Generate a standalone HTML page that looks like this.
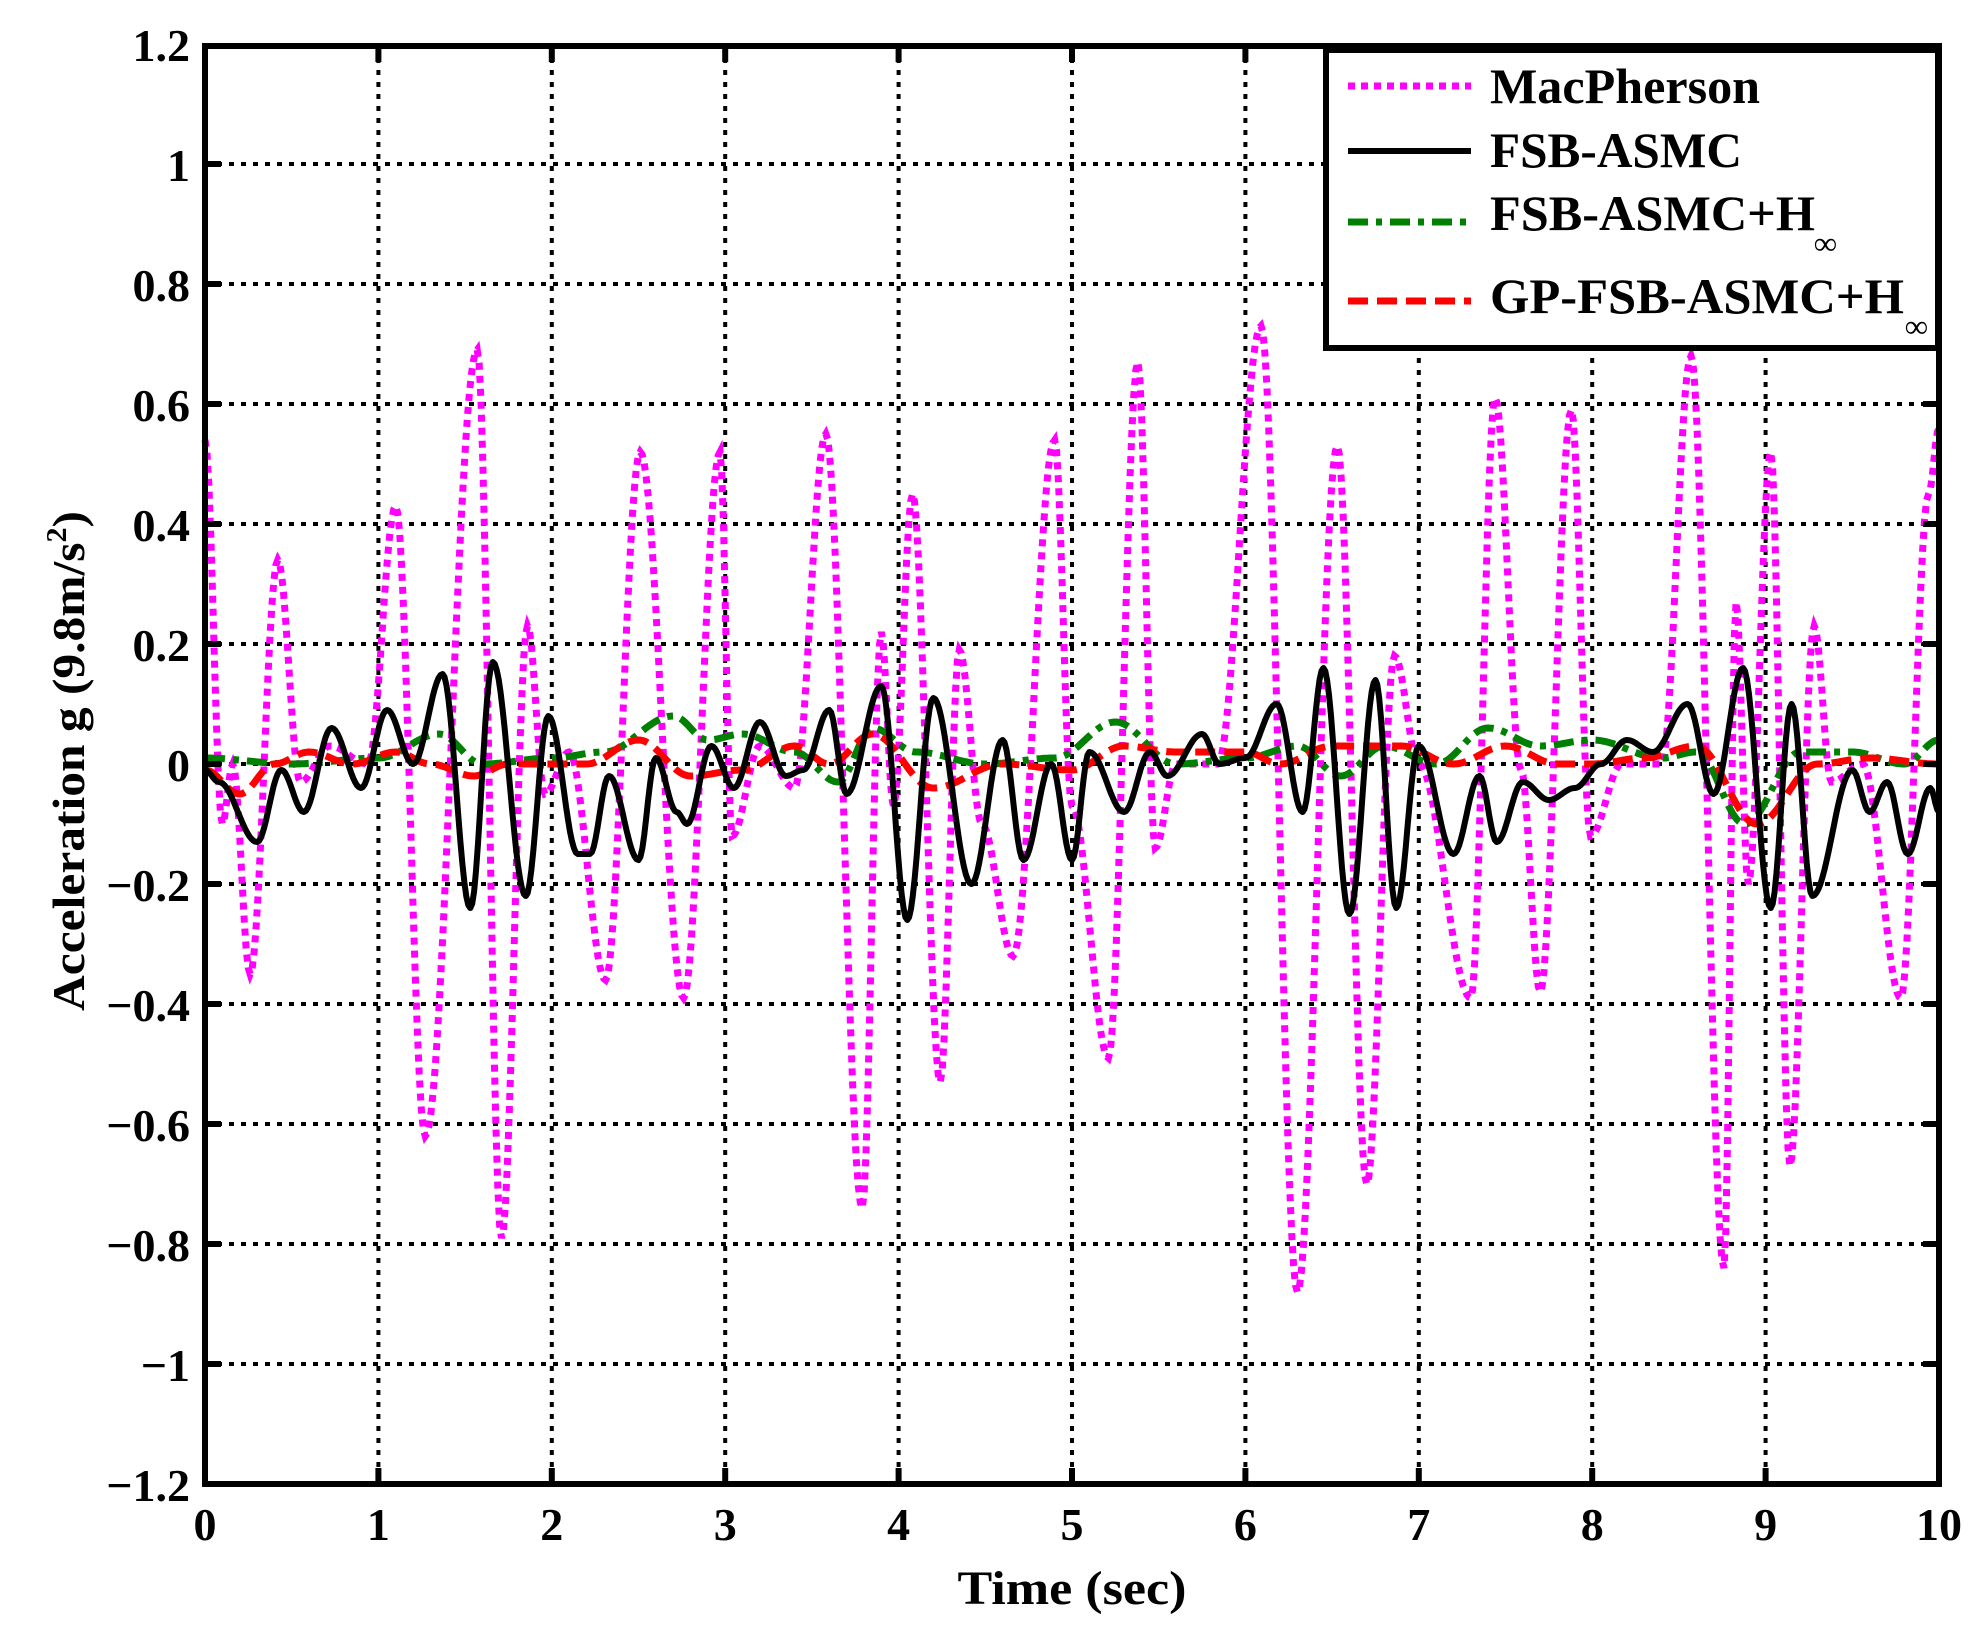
<!DOCTYPE html>
<html><head><meta charset="utf-8"><style>
html,body{margin:0;padding:0;background:#fff;}
svg{display:block;}
text{font-family:"Liberation Serif",serif;font-weight:bold;fill:#000;}
</style></head><body>
<svg id="s" width="1987" height="1636" viewBox="0 0 1987 1636" xmlns="http://www.w3.org/2000/svg">
<rect width="1987" height="1636" fill="#fff"/>
<g id="grid" stroke="#000" stroke-width="4" stroke-dasharray="5 7"></g>
<g id="series"></g>
<rect x="205" y="46" width="1734" height="1438" fill="none" stroke="#000" stroke-width="6"/>
<g id="ticks" stroke="#000" stroke-width="6"></g>
<g id="labels" font-size="46"></g>
<text x="1072" y="1604" font-size="48" text-anchor="middle" textLength="229" lengthAdjust="spacingAndGlyphs">Time (sec)</text>
<text transform="translate(84,761) rotate(-90)" font-size="46" text-anchor="middle" textLength="500" lengthAdjust="spacingAndGlyphs">Acceleration g (9.8m/s<tspan font-size="28" dy="-18">2</tspan><tspan dy="18">)</tspan></text>
<!-- legend -->
<rect x="1326" y="50" width="612" height="298" fill="#fff" stroke="#000" stroke-width="6"/>
<line x1="1348" y1="86" x2="1471" y2="86" stroke="#ff00ff" stroke-width="7" stroke-dasharray="7 6"/>
<line x1="1348" y1="151" x2="1471" y2="151" stroke="#000" stroke-width="6"/>
<line x1="1348" y1="222" x2="1471" y2="222" stroke="#008000" stroke-width="7" stroke-dasharray="20 8 6 8"/>
<line x1="1348" y1="301" x2="1471" y2="301" stroke="#ff0000" stroke-width="7" stroke-dasharray="20 9"/>
<text x="1490" y="103" font-size="50" textLength="270" lengthAdjust="spacingAndGlyphs">MacPherson</text>
<text x="1490" y="167" font-size="50" textLength="252" lengthAdjust="spacingAndGlyphs">FSB-ASMC</text>
<text x="1490" y="230" font-size="50" textLength="325" lengthAdjust="spacingAndGlyphs">FSB-ASMC+H</text>
<text x="1814" y="254" font-size="32">∞</text>
<text x="1490" y="313" font-size="50" textLength="414" lengthAdjust="spacingAndGlyphs">GP-FSB-ASMC+H</text>
<text x="1905" y="337" font-size="32">∞</text>
</svg>
<script>
var NS="http://www.w3.org/2000/svg";
function X(t){return 205+t*173.4;}
function Y(v){return 764-v*600;}
function el(p,n,a){var e=document.createElementNS(NS,n);for(var k in a)e.setAttribute(k,a[k]);p.appendChild(e);return e;}
var grid=document.getElementById('grid'),ticks=document.getElementById('ticks'),labels=document.getElementById('labels');
for(var i=1;i<10;i++){el(grid,'line',{x1:X(i),y1:46,x2:X(i),y2:1484});
 el(ticks,'line',{x1:X(i),y1:1484,x2:X(i),y2:1468});el(ticks,'line',{x1:X(i),y1:46,x2:X(i),y2:62});}
for(var i=0;i<=10;i++){var t=el(labels,'text',{x:X(i),y:1540,'text-anchor':'middle'});t.textContent=String(i);}
for(var k=-6;k<=6;k++){var v=k*0.2;var y=Y(v);
 if(k>-6&&k<6){el(grid,'line',{x1:205,y1:y,x2:1939,y2:y});el(ticks,'line',{x1:205,y1:y,x2:221,y2:y});el(ticks,'line',{x1:1939,y1:y,x2:1923,y2:y});}
 var s=(Math.abs(v)<1e-9)?'0':(Math.round(v*10)/10).toString().replace('-','\u2212');
 var t=el(labels,'text',{x:190,y:y+17,'text-anchor':'end'});t.textContent=s;}
function path(pts){var d='';for(var i=0;i<pts.length-1;i++){var a=pts[i],b=pts[i+1];var n=Math.max(2,Math.ceil((X(b[0])-X(a[0]))/2));
 for(var j=(i==0?0:1);j<=n;j++){var f=j/n;var g=(1-Math.cos(Math.PI*f))/2;var x=X(a[0]+(b[0]-a[0])*f),y=Y(a[1]+(b[1]-a[1])*g);d+=(d?'L':'M')+x.toFixed(1)+' '+y.toFixed(1);}}return d;}
var mac=[[0,0.54],[0.1,-0.1],[0.16,0.0],[0.26,-0.35],[0.42,0.34],[0.55,-0.03],[0.72,0.03],[0.94,0],[1.1,0.43],[1.27,-0.62],[1.57,0.69],[1.71,-0.79],[1.86,0.23],[1.96,-0.05],[2.1,0.02],[2.31,-0.36],[2.51,0.52],[2.76,-0.39],[2.97,0.52],[3.04,-0.12],[3.2,0.03],[3.4,-0.04],[3.58,0.55],[3.79,-0.74],[3.9,0.22],[3.97,-0.07],[4.08,0.45],[4.24,-0.53],[4.35,0.19],[4.48,-0.1],[4.66,-0.32],[4.9,0.54],[5.0,-0.07],[5.21,-0.49],[5.38,0.67],[5.48,-0.14],[5.6,0],[5.84,0],[6.09,0.73],[6.3,-0.88],[6.53,0.53],[6.7,-0.7],[6.86,0.18],[7.0,0],[7.3,-0.39],[7.44,0.61],[7.59,-0.01],[7.7,-0.38],[7.88,0.59],[7.99,-0.12],[8.17,0],[8.4,0],[8.57,0.68],[8.76,-0.84],[8.83,0.27],[8.9,-0.2],[9.03,0.52],[9.14,-0.67],[9.28,0.23],[9.38,-0.03],[9.56,0],[9.78,-0.39],[9.94,0.45],[10,0.56]];
var blk=[[0,-0.01],[0.08,-0.03],[0.3,-0.13],[0.44,-0.01],[0.57,-0.08],[0.73,0.06],[0.9,-0.04],[1.05,0.09],[1.2,0.0],[1.37,0.15],[1.53,-0.24],[1.66,0.17],[1.85,-0.22],[1.98,0.08],[2.15,-0.15],[2.22,-0.15],[2.33,-0.02],[2.5,-0.16],[2.6,0.01],[2.72,-0.08],[2.78,-0.1],[2.92,0.03],[3.05,-0.04],[3.2,0.07],[3.35,-0.02],[3.45,-0.01],[3.6,0.09],[3.7,-0.05],[3.9,0.13],[4.05,-0.26],[4.2,0.11],[4.42,-0.2],[4.6,0.04],[4.72,-0.16],[4.88,0.0],[5.0,-0.16],[5.1,0.02],[5.3,-0.08],[5.45,0.02],[5.55,-0.02],[5.75,0.05],[5.85,0.0],[6.0,0.01],[6.18,0.1],[6.33,-0.08],[6.45,0.16],[6.6,-0.25],[6.75,0.14],[6.87,-0.24],[7.0,0.03],[7.2,-0.15],[7.35,-0.02],[7.45,-0.13],[7.6,-0.03],[7.75,-0.06],[7.9,-0.04],[8.05,0.0],[8.2,0.04],[8.35,0.02],[8.55,0.1],[8.7,-0.05],[8.87,0.16],[9.03,-0.24],[9.15,0.1],[9.27,-0.22],[9.5,-0.01],[9.6,-0.08],[9.7,-0.03],[9.82,-0.15],[9.95,-0.04],[10,-0.08]];
var grn=[[0,0.01],[0.5,0.0],[1.0,0.01],[1.35,0.05],[1.6,0.0],[2.0,0.01],[2.3,0.02],[2.7,0.08],[2.9,0.04],[3.1,0.05],[3.4,0.02],[3.65,-0.03],[3.85,0.06],[4.1,0.02],[4.5,0.0],[4.9,0.01],[5.25,0.07],[5.6,0.0],[6.0,0.01],[6.3,0.03],[6.55,-0.02],[6.8,0.03],[7.1,0.0],[7.4,0.06],[7.7,0.03],[8.0,0.04],[8.4,0.01],[8.6,0.02],[8.88,-0.1],[9.2,0.02],[9.5,0.02],[9.8,0.0],[10,0.04]];
var red=[[0,-0.01],[0.2,-0.05],[0.4,0.0],[0.6,0.02],[0.85,0.0],[1.1,0.02],[1.3,0.0],[1.55,-0.02],[1.75,0.0],[2.0,0.0],[2.2,0.0],[2.5,0.04],[2.8,-0.02],[3.1,-0.01],[3.4,0.03],[3.6,0.0],[3.85,0.05],[4.2,-0.04],[4.6,0.0],[5.0,-0.01],[5.3,0.03],[5.6,0.02],[6.0,0.02],[6.2,0.0],[6.5,0.03],[6.9,0.03],[7.2,0.0],[7.5,0.03],[7.8,0.0],[8.0,0.0],[8.3,0.01],[8.6,0.03],[8.95,-0.1],[9.3,0.0],[9.6,0.01],[10,0.0]];
var S=document.getElementById('series');
el(S,'path',{d:path(mac),fill:'none',stroke:'#ff00ff','stroke-width':7,'stroke-dasharray':'7 6'});
el(S,'path',{d:path(grn),fill:'none',stroke:'#008000','stroke-width':7,'stroke-dasharray':'20 8 6 8'});
el(S,'path',{d:path(red),fill:'none',stroke:'#ff0000','stroke-width':7,'stroke-dasharray':'20 9'});
el(S,'path',{d:path(blk),fill:'none',stroke:'#000','stroke-width':6,'stroke-linejoin':'round'});
</script>
</body></html>
